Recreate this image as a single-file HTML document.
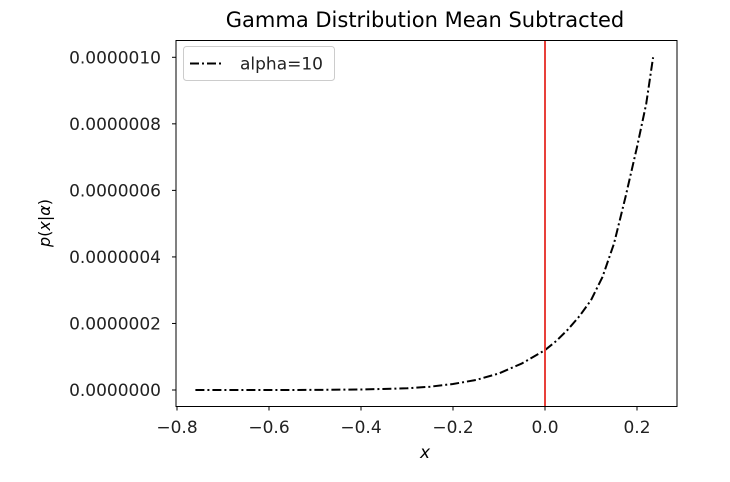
<!DOCTYPE html>
<html><head><meta charset="utf-8"><style>
html,body{margin:0;padding:0;background:#fff;}
svg{display:block;font-family:"DejaVu Sans","Liberation Sans",sans-serif;}
</style></head><body>
<svg width="730" height="482" viewBox="0 0 730 482">
<text x="425" y="27" font-size="21" text-anchor="middle" fill="#000">Gamma Distribution Mean Subtracted</text>
<g id="plot"></g>
<rect x="176" y="40.5" width="501" height="366" fill="none" stroke="#000" stroke-width="1"/>
<text x="425" y="458" font-size="17" font-style="italic" text-anchor="middle">x</text>
<text transform="translate(50,223) rotate(-90)" font-size="16" text-anchor="middle"><tspan font-style="italic">p</tspan>(<tspan font-style="italic">x</tspan>|<tspan font-style="italic">α</tspan>)</text>
<g>
<rect x="183.5" y="46.5" width="151" height="34" rx="3" fill="#fff" stroke="#ccc"/>
<line x1="190" y1="63.5" x2="223" y2="63.5" stroke="#000" stroke-width="2" stroke-dasharray="9,3,2,3"/>
<text x="240" y="69.5" font-size="17" fill="#222">alpha=10</text>
</g>
</svg>
<script>
const xs = [-0.76,-0.6,-0.5,-0.4,-0.3,-0.25,-0.2,-0.15,-0.1,-0.05,0,0.025,0.05,0.075,0.1,0.125,0.15,0.175,0.2,0.22,0.235];
const ys = [0,0.001,0.004,0.015,0.05,0.1,0.18,0.3,0.5,0.8,1.2,1.48,1.82,2.22,2.7,3.4,4.4,5.8,7.3,8.6,10.0]; // ×1e-7
const xTicks = [-0.8,-0.6,-0.4,-0.2,0.0,0.2];
const xTickLabels = ["\u22120.8","\u22120.6","\u22120.4","\u22120.2","0.0","0.2"];
const yTicks = [0,2,4,6,8,10];
const yTickLabels = ["0.0000000","0.0000002","0.0000004","0.0000006","0.0000008","0.0000010"];
const vline = 0;
const NS="http://www.w3.org/2000/svg";
function X(v){return 545+v*460;}
function Y(v){return 390-v*33.27;}
const g=document.getElementById('plot');
function mk(t,a){const e=document.createElementNS(NS,t);for(const k in a)e.setAttribute(k,a[k]);g.appendChild(e);return e;}
xTicks.forEach((t,i)=>{
  const l=mk('line',{x1:X(t),x2:X(t),y1:406.5,y2:410.5,stroke:'#000'});
  
  
  const tx=mk('text',{x:X(t),y:433,'font-size':17,'text-anchor':'middle',fill:'#222'});
  tx.textContent=xTickLabels[i];
  
  
});
yTicks.forEach((t,i)=>{
  const l=mk('line',{x1:172,x2:176,y1:Y(t),y2:Y(t),stroke:'#000'});
  
  
  const tx=mk('text',{x:161,y:Y(t)+6,'font-size':17,'text-anchor':'end',fill:'#222'});
  tx.textContent=yTickLabels[i];
  
  
});
let d=xs.map((x,i)=>(i?'L':'M')+X(x).toFixed(1)+','+Y(ys[i]).toFixed(1)).join(' ');
const p=mk('path',{d:d,fill:'none',stroke:'#000','stroke-width':2,'stroke-dasharray':'9,3,2,3','stroke-linejoin':'round'});


const r=mk('line',{x1:X(vline),x2:X(vline),y1:40.5,y2:406.5,stroke:'#e8403a','stroke-width':2});


</script>
</body></html>
